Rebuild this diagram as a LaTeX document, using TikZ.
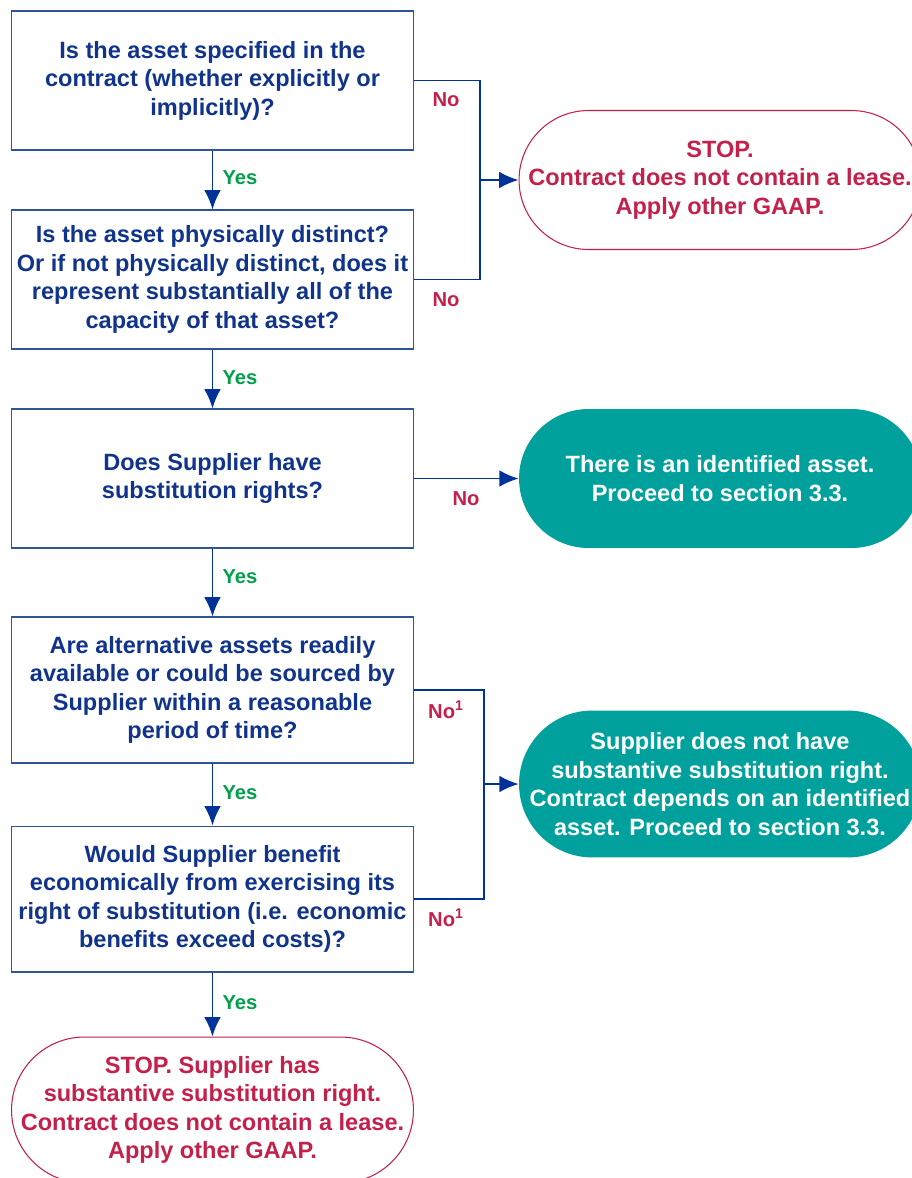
\documentclass[tikz,border=0pt]{standalone}
\usepackage{fontspec}
\setmainfont{Liberation Sans}
\usetikzlibrary{arrows.meta}
\definecolor{boxline}{RGB}{47,85,151}
\definecolor{navy}{RGB}{16,52,140}
\definecolor{arrblue}{RGB}{0,51,153}
\definecolor{stopred}{RGB}{196,32,74}
\definecolor{teal}{RGB}{0,161,156}
\definecolor{yesgreen}{RGB}{0,160,75}
\tikzset{
  question/.style={draw=boxline, line width=0.6pt, fill=white, text=navy,
    minimum width=8.06cm, minimum height=2.78cm, align=center,
    font=\fontsize{13.4}{16.2}\selectfont\bfseries},
  stopbox/.style={draw=stopred, line width=0.6pt, fill=white, text=stopred,
    minimum width=8.04cm, minimum height=2.78cm, rounded corners=1.39cm, align=center,
    font=\fontsize{13.4}{16.2}\selectfont\bfseries},
  resultbox/.style={fill=teal, text=white,
    minimum width=8.04cm, minimum height=2.78cm, rounded corners=1.39cm, align=center,
    font=\fontsize{13.4}{16.2}\selectfont\bfseries},
  line/.style={draw=arrblue, line width=1.1pt},
  arr/.style={line, -{Latex[length=11pt,width=9.5pt]}},
  yes/.style={text=yesgreen, font=\fontsize{11.5}{13}\selectfont\bfseries},
  no/.style={text=stopred, font=\fontsize{11.5}{13}\selectfont\bfseries}
}
\begin{document}
\begin{tikzpicture}[x=0.02cm, y=-0.02cm]
\useasboundingbox (0,0) rectangle (912,1178);

% Questions
\node[question] (q1) at (212.5,80.5) {Is the asset specified in the\\contract (whether explicitly or\\implicitly)?};
\node[question] (q2) at (212.5,279.5) {Is the asset physically distinct?\\Or if not physically distinct, does it\\represent substantially all of the\\capacity of that asset?};
\node[question] (q3) at (212.5,478.5) {Does Supplier have\\substitution rights?};
\node[question, minimum height=2.92cm] (q4) at (212.5,690) {Are alternative assets readily\\available or could be sourced by\\Supplier within a reasonable\\period of time?};
\node[question, minimum height=2.92cm] (q5) at (212.5,899) {Would Supplier benefit\\economically from exercising its\\right of substitution (i.e. economic\\benefits exceed costs)?};

% Outcomes
\node[stopbox] (stop1) at (720,180) {STOP.\\Contract does not contain a lease.\\Apply other GAAP.};
\node[resultbox] (res1) at (720,478.5) {There is an identified asset.\\Proceed to section 3.3.};
\node[resultbox, minimum height=2.94cm, rounded corners=1.47cm] (res2) at (720,784) {Supplier does not have\\substantive substitution right.\\Contract depends on an identified\\asset. Proceed to section 3.3.};
\node[stopbox, minimum height=2.92cm, rounded corners=1.46cm] (stop2) at (212.5,1110) {STOP. Supplier has\\substantive substitution right.\\Contract does not contain a lease.\\Apply other GAAP.};

% Yes arrows
\draw[arr] (q1) -- (q2);
\draw[arr] (q2) -- (q3);
\draw[arr] (q3) -- (q4);
\draw[arr] (q4) -- (q5);
\draw[arr] (q5) -- (stop2);
\node[yes] (y1) at (240,178) {Yes};
\node[yes] (y2) at (240,378) {Yes};
\node[yes] (y3) at (240,577) {Yes};
\node[yes] (y4) at (240,793) {Yes};
\node[yes] (y5) at (240,1003) {Yes};

% No branches
\coordinate (j1) at (480,180);
\draw[line] (q1.east) -| (j1);
\draw[line] (q2.east) -| (j1);
\draw[arr] (j1) -- (stop1.west);
\node[no] (n1) at (446,100) {No};
\node[no] (n2) at (446,300) {No};

\draw[arr] (q3) -- (res1);
\node[no] (n3) at (466,499) {No};

\coordinate (j2) at (484,784);
\draw[line] (q4.east) -| (j2);
\draw[line] (q5.east) -| (j2);
\draw[arr] (j2) -- (res2.west);
\node[no] (n4) at (446,710) {No\textsuperscript{1}};
\node[no] (n5) at (446,918) {No\textsuperscript{1}};

\end{tikzpicture}
\end{document}
